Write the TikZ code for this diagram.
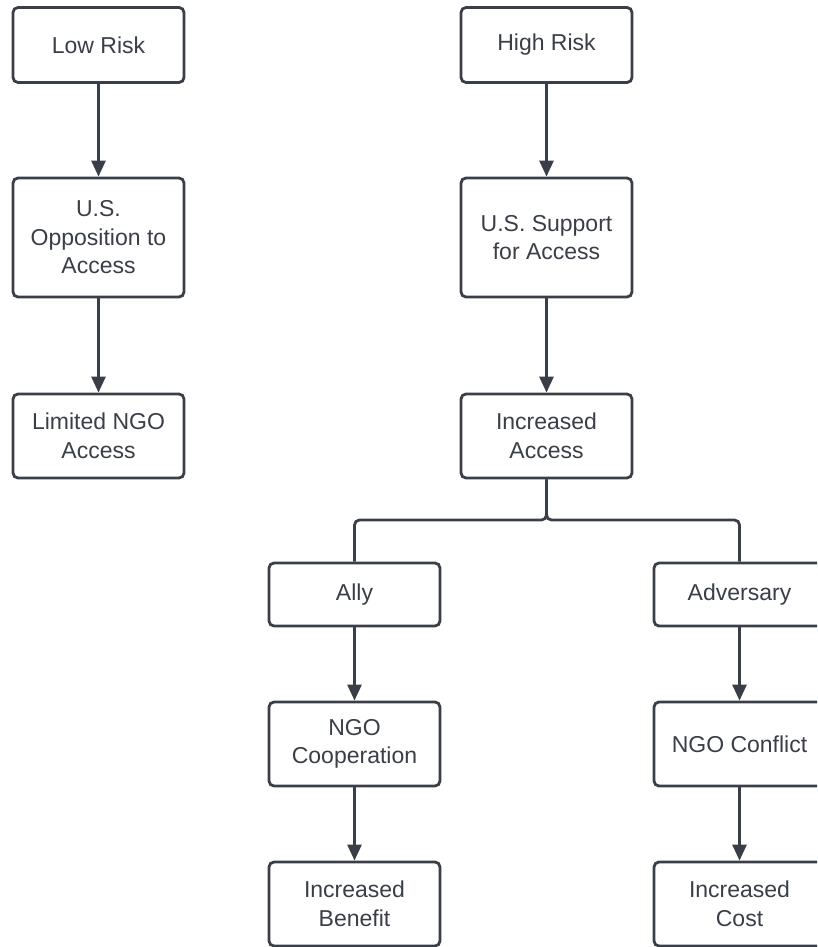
\documentclass[tikz,border=0pt]{standalone}
\usepackage{fontspec}
\setmainfont{Liberation Sans}
\usetikzlibrary{arrows.meta}
\definecolor{ink}{HTML}{3A3F47}
\begin{document}
\begin{tikzpicture}[x=1pt,y=-1pt,
  box/.style={draw=ink, line width=2.8pt, rounded corners=5pt, fill=white,
    minimum width=171pt, text=ink, align=center, inner sep=0pt,
    font=\fontsize{23}{28.5}\selectfont},
  link/.style={draw=ink, line width=2.8pt, -{Triangle[width=14pt,length=16pt]}},
  branch/.style={draw=ink, line width=2.8pt, rounded corners=5pt}]
\useasboundingbox (0,0) rectangle (817,947);
\clip (0,0) rectangle (817,947);
\node[box, minimum height=75pt] (low) at (98.5,45) {Low Risk};
\node[box, minimum height=119pt] (opp) at (98.5,237.5) {U.S.\\Opposition to\\Access};
\node[box, minimum height=84pt] (lim) at (98.5,436) {Limited NGO\\Access};
\node[box, minimum height=75pt] (high) at (546.5,45) {High Risk};
\node[box, minimum height=119pt] (sup) at (546.5,237.5) {U.S. Support\\for Access};
\node[box, minimum height=84pt] (inc) at (546.5,436) {Increased\\Access};
\node[box, minimum height=63pt] (ally) at (354.5,594.5) {Ally};
\node[box, minimum height=63pt] (adv) at (739.5,594.5) {Adversary};
\node[box, minimum height=84pt] (coop) at (354.5,744) {NGO\\Cooperation};
\node[box, minimum height=84pt] (conf) at (739.5,744) {NGO Conflict};
\node[box, minimum height=84pt] (ben) at (354.5,904) {Increased\\Benefit};
\node[box, minimum height=84pt] (cost) at (739.5,904) {Increased\\Cost};
\coordinate (j) at (546.5,520);
\draw[link] (low) -- (opp);
\draw[link] (opp) -- (lim);
\draw[link] (high) -- (sup);
\draw[link] (sup) -- (inc);
\draw[branch] (inc.south) -- (j) -| (ally.north);
\draw[branch] (inc.south) -- (j) -| (adv.north);
\draw[link] (ally) -- (coop);
\draw[link] (coop) -- (ben);
\draw[link] (adv) -- (conf);
\draw[link] (conf) -- (cost);
\end{tikzpicture}
\end{document}
